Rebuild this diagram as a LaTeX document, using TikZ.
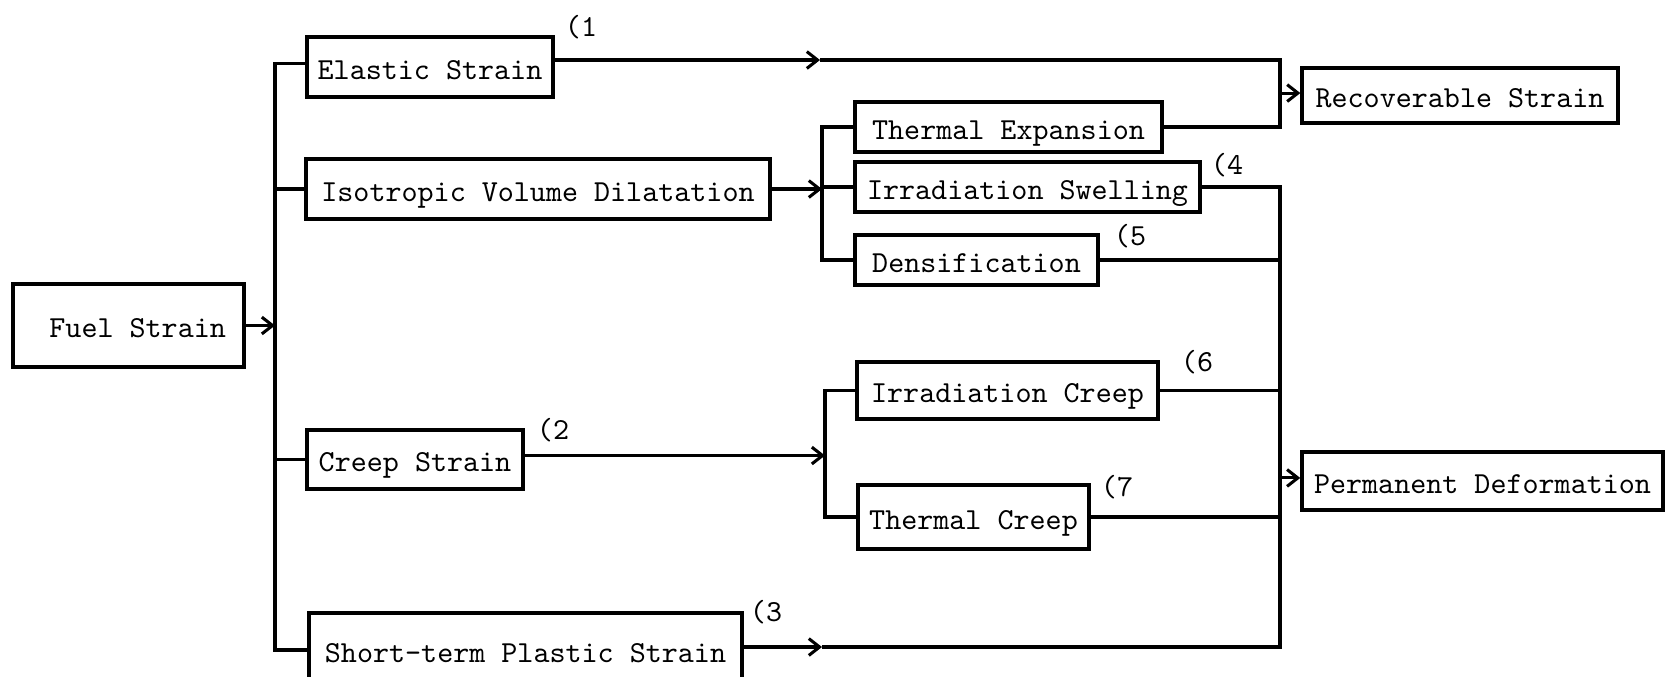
\documentclass[tikz,border=0pt]{standalone}
\usepackage{fontspec}
\usetikzlibrary{arrows.meta}
\tikzset{
  strainbox/.style={draw, line width=1.2pt, font=\ttfamily, inner sep=0pt, align=center,
    text height=9pt, text depth=1pt},
  branch/.style={line width=1pt},
  feed/.style={line width=1pt, -{Straight Barb[length=3.5pt, width=5.5pt, line width=1pt]}},
  tagnum/.style={font=\ttfamily, inner sep=0pt}
}

\begin{document}
\begin{tikzpicture}[x=0.115mm, y=-0.115mm]
  \useasboundingbox (0,0) rectangle (1667,676);
  % boxes
  \node[strainbox, minimum width=26.6mm, minimum height=9.5mm] (fuel) at (128.5,325.5) {\hspace*{6pt}Fuel Strain};
  \node[strainbox, minimum width=28.3mm, minimum height=6.9mm] (elastic) at (430,67) {Elastic Strain};
  \node[strainbox, minimum width=53.4mm, minimum height=6.9mm] (isovol) at (538,189) {Isotropic Volume Dilatation};
  \node[strainbox, minimum width=24.8mm, minimum height=6.8mm] (creep) at (415,459.5) {Creep Strain};
  \node[strainbox, minimum width=49.8mm, minimum height=8.5mm] (plastic) at (525.5,650) {Short-term Plastic Strain};
  \node[strainbox, minimum width=35.3mm, minimum height=5.75mm] (thexp) at (1008.5,127) {Thermal Expansion};
  \node[strainbox, minimum width=39.7mm, minimum height=5.75mm] (irrsw) at (1027.5,187) {Irradiation Swelling};
  \node[strainbox, minimum width=27.9mm, minimum height=5.75mm] (dens) at (976.5,260) {Densification};
  \node[strainbox, minimum width=34.6mm, minimum height=6.55mm] (irrcr) at (1007.5,390.5) {Irradiation Creep};
  \node[strainbox, minimum width=26.6mm, minimum height=7.4mm] (thcr) at (973.5,517) {Thermal Creep};
  \node[strainbox, minimum width=36.3mm, minimum height=6.3mm] (recov) at (1460,95.5) {Recoverable Strain};
  \node[strainbox, minimum width=41.5mm, minimum height=6.7mm] (perm) at (1482.5,481) {Permanent Deformation};
  % numbers
  \node[tagnum] (n1) at (581,27) {(1};
  \node[tagnum] (n2) at (553,430) {(2};
  \node[tagnum] (n3) at (766,612) {(3};
  \node[tagnum] (n4) at (1227,165) {(4};
  \node[tagnum] (n5) at (1130,236) {(5};
  \node[tagnum] (n6) at (1197,362) {(6};
  \node[tagnum] (n7) at (1117,487) {(7};
  % bus lines
  \coordinate (trunk) at (275,0);
  \coordinate (volbus) at (822,0);
  \coordinate (crbus) at (825,0);
  \coordinate (recbus) at (1280,0);
  \coordinate (elmid) at (820,60);
  \coordinate (plmid) at (822,647);
  % fuel strain
  \draw[feed] (fuel.east) -- (fuel.east -| trunk);
  \draw[branch] ([yshift=1.3pt]elastic.west) -| (trunk |- plastic.west) -- (plastic.west);
  \draw[branch] (isovol.west) -- (isovol.west -| trunk);
  \draw[branch] (creep.west) -- (creep.west -| trunk);
  % recoverable
  \draw[feed] (elastic.east |- elmid) -- (elmid);
  \draw[branch] (elmid) -| (thexp.east -| recbus) -- (thexp.east);
  \draw[feed] ([yshift=0.8pt]recov.west -| recbus) -- ([yshift=0.8pt]recov.west);
  % volume dilatation
  \draw[feed] (isovol.east) -- (isovol.east -| volbus);
  \draw[branch] (thexp.west) -| (volbus |- dens.west) -- (dens.west);
  \draw[branch] (irrsw.west) -- (irrsw.west -| volbus);
  % creep
  \draw[feed] ([yshift=1.3pt]creep.east) -- ([yshift=1.3pt]creep.east -| crbus);
  \draw[branch] (irrcr.west) -| (crbus |- thcr.west) -- (thcr.west);
  % permanent
  \draw[feed] (plastic.east |- plmid) -- (plmid);
  \draw[branch] (plmid) -| (irrsw.east -| recbus) -- (irrsw.east);
  \draw[branch] (dens.east) -- (dens.east -| recbus);
  \draw[branch] (irrcr.east) -- (irrcr.east -| recbus);
  \draw[branch] (thcr.east) -- (thcr.east -| recbus);
  \draw[feed] ([yshift=1pt]perm.west -| recbus) -- ([yshift=1pt]perm.west);
\end{tikzpicture}
\end{document}
